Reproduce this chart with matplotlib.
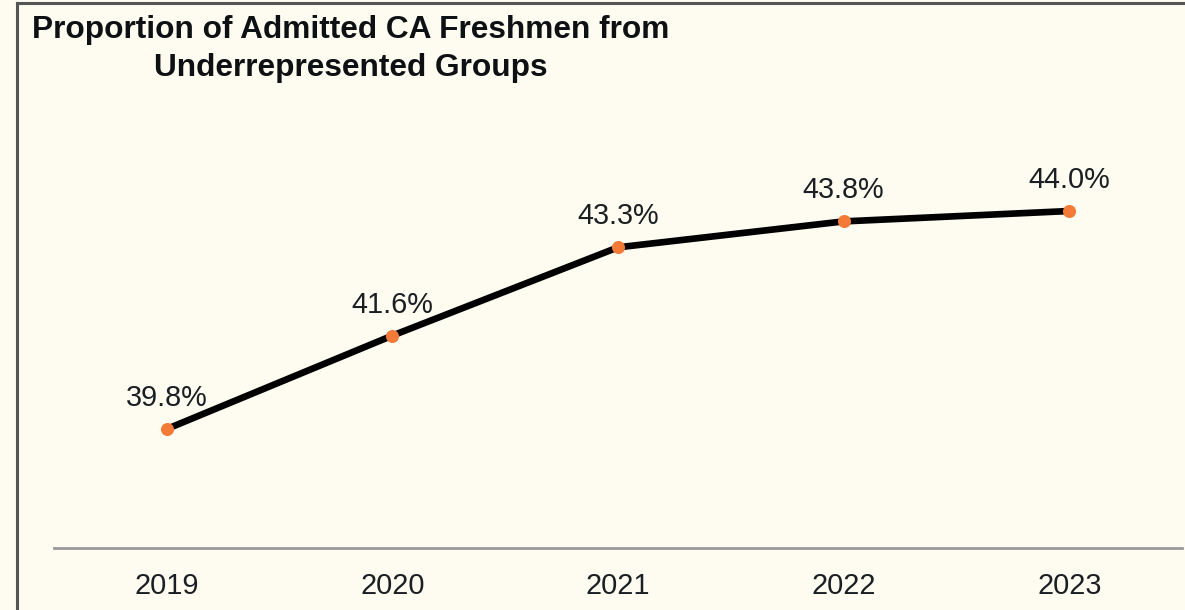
import matplotlib
matplotlib.use("Agg")
import matplotlib.pyplot as plt
from matplotlib.lines import Line2D

years = ["2019", "2020", "2021", "2022", "2023"]
values = [39.8, 41.6, 43.3, 43.8, 44.0]
labels = ["39.8%", "41.6%", "43.3%", "43.8%", "44.0%"]
title = "Proportion of Admitted CA Freshmen from\nUnderrepresented Groups"

W, H = 1185, 610
bg = "#FEFCF0"
txt = "#1A1F24"
plt.rcParams['font.family'] = ['Liberation Sans', 'DejaVu Sans']

fig = plt.figure(figsize=(W / 100, H / 100), dpi=100, facecolor=bg)
ax = fig.add_axes([54 / W, (H - 548) / H, (1182 - 54) / W, (548 - 100) / H])
ax.set_facecolor(bg)

x = list(range(len(years)))
ax.plot(x, values, color="black", lw=4.8, solid_capstyle="butt", zorder=2)
ax.plot(x, values, "o", color="#F47A37", ms=9.4, mec="none", zorder=3)
for xi, v, lab in zip(x, values, labels):
    ax.annotate(lab, (xi, v), xytext=(0, 16.5), textcoords="offset points",
                ha="center", va="baseline", fontsize=20.8, color=txt)

ax.set_xlim(-0.5, len(years) - 0.5)
ax.set_ylim(39.8 - (548 - 429) / 51.9, 39.8 + (429 - 100) / 51.9)
ax.set_xticks(x)
ax.set_xticklabels(years, fontsize=20.8, color=txt)
ax.tick_params(axis="x", length=0, pad=17)
ax.set_yticks([])
for s in ["left", "right", "top"]:
    ax.spines[s].set_visible(False)
ax.spines["bottom"].set_color("#999999")
ax.spines["bottom"].set_linewidth(2.0)

fig.text(351 / W, 1 - 15 / H, title, ha="center", va="top", fontsize=22.8,
         fontweight="bold", color="#0E1114", linespacing=1.36, multialignment="center")

# frame border (left and top)
fig.add_artist(Line2D([17 / W, 17 / W], [0, 1 - 3 / H], transform=fig.transFigure,
                      color="#555555", lw=2.2))
fig.add_artist(Line2D([17 / W, 1], [1 - 3 / H, 1 - 3 / H], transform=fig.transFigure,
                      color="#555555", lw=2.2))

fig.savefig("out.png", dpi=100, facecolor=bg)
